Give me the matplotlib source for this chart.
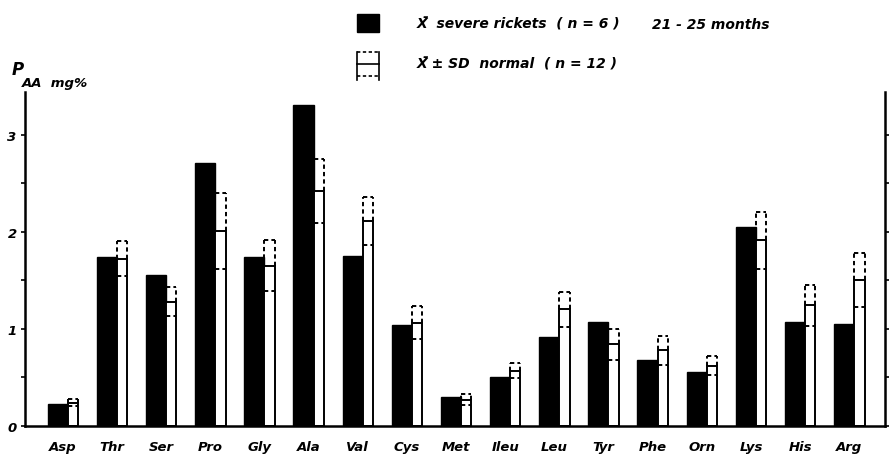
import numpy as np
import matplotlib
matplotlib.use("Agg")
import matplotlib.pyplot as plt
from matplotlib.patches import Rectangle
from matplotlib.lines import Line2D

# plasma amino acids, mg%
amino = ["Asp", "Thr", "Ser", "Pro", "Gly", "Ala", "Val", "Cys", "Met",
         "Ileu", "Leu", "Tyr", "Phe", "Orn", "Lys", "His", "Arg"]
rickets = [0.23, 1.74, 1.55, 2.71, 1.74, 3.31, 1.75, 1.04, 0.30,
           0.50, 0.92, 1.07, 0.68, 0.55, 2.05, 1.07, 1.05]
normal_mean = [0.24, 1.72, 1.28, 2.01, 1.65, 2.42, 2.11, 1.06, 0.27,
               0.57, 1.20, 0.84, 0.78, 0.62, 1.91, 1.24, 1.50]
normal_sd = [0.04, 0.18, 0.15, 0.39, 0.26, 0.33, 0.25, 0.17, 0.06,
             0.08, 0.18, 0.16, 0.15, 0.10, 0.29, 0.21, 0.28]
y_ticks = [0, 1, 2, 3]

font = dict(family="DejaVu Sans", style="italic", weight="bold")

fig = plt.figure(figsize=(8.95, 4.6), dpi=100)
ax = fig.add_axes([0.028, 0.072, 0.961, 0.726])

x = np.arange(len(amino))
w_black, w_norm = 0.41, 0.21
x_black = x - 0.31
x_norm = x_black + w_black

ax.bar(x_black, rickets, width=w_black, align="edge", color="black",
       edgecolor="black", linewidth=1)
ax.bar(x_norm, normal_mean, width=w_norm, align="edge", color="white",
       edgecolor="black", linewidth=1.4)

# SD box, dashed
m = np.array(normal_mean)
s = np.array(normal_sd)
dash = dict(colors="black", linestyles=(0, (2.2, 1.6)), linewidth=1.4)
ax.hlines(m + s, x_norm, x_norm + w_norm, **dash)
ax.hlines(m - s, x_norm, x_norm + w_norm, **dash)
ax.vlines(x_norm, m, m + s, **dash)
ax.vlines(x_norm + w_norm, m, m + s, **dash)

ax.set_xlim(-0.77, 16.73)
ax.set_ylim(0, 3.44)
ax.set_xticks(x)
ax.set_xticklabels(amino, fontsize=9.5, **font)
ax.tick_params(axis="x", length=0, pad=10)

ax.set_yticks(y_ticks)
ax.set_yticklabels([str(t) for t in y_ticks], fontsize=9.5, **font)
ax.set_yticks(np.arange(0.5, 3.5, 1.0), minor=True)
ax.tick_params(axis="y", which="both", length=3, width=1.2, pad=3,
               right=True, direction="out")

for side in ["left", "right", "bottom"]:
    ax.spines[side].set_linewidth(1.8)
ax.spines["top"].set_visible(False)

# y label
fig.text(0.013, 0.836, "P", fontsize=12, **font)
fig.text(0.024, 0.810, "AA  mg%", fontsize=9.5, **font)

# legend drawn by hand
fig.patches.append(Rectangle((0.399, 0.928), 0.024, 0.039, transform=fig.transFigure,
                             facecolor="black", edgecolor="black"))
fig.text(0.466, 0.938, "X\u0304  severe rickets  ( n = 6 )", fontsize=10, **font)
fig.text(0.728, 0.938, "21 - 25 months", fontsize=10, **font)

lx0, lx1 = 0.399, 0.423
ly0, ly1, lym = 0.833, 0.885, 0.859
for yy, ls in [(ly1, (0, (2, 1.5))), (ly0, (0, (2, 1.5))), (lym, "-")]:
    fig.lines.append(Line2D([lx0, lx1], [yy, yy], transform=fig.transFigure,
                            color="black", linewidth=1.2, linestyle=ls))
for xx in [lx0, lx1]:
    fig.lines.append(Line2D([xx, xx], [ly0 - 0.008, ly1], transform=fig.transFigure,
                            color="black", linewidth=1.2))
fig.text(0.466, 0.851, "X\u0304 \u00b1 SD  normal  ( n = 12 )", fontsize=10, **font)

fig.savefig("out.png", dpi=100)
